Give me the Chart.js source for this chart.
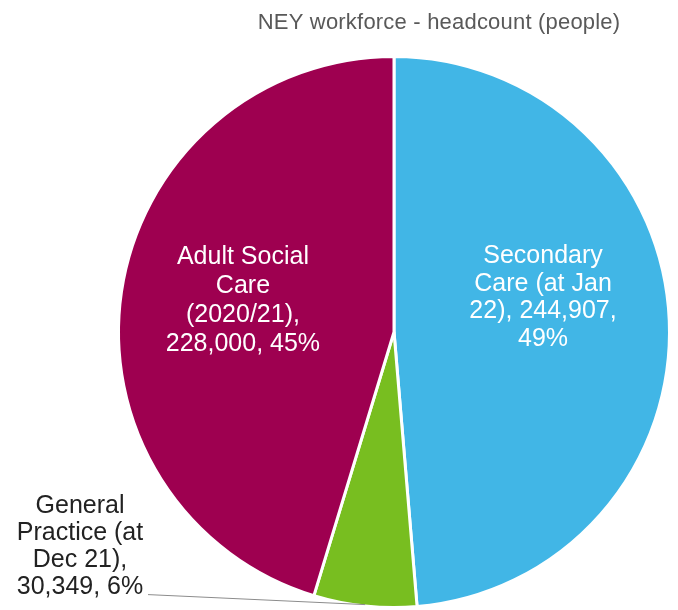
<!DOCTYPE html>
<html>
<head>
<meta charset="utf-8">
<script src="https://cdn.jsdelivr.net/npm/chart.js@4.4.0/dist/chart.umd.min.js"></script>
<style>
  html, body { margin: 0; padding: 0; background: #fff; }
  canvas { display: block; }
</style>
</head>
<body>
<canvas id="myChart" width="678" height="610"></canvas>
<script>
// chart data
var categories = ["Secondary Care (at Jan 22)", "General Practice (at Dec 21)", "Adult Social Care (2020/21)"];
var headcount = [244907, 30349, 228000];
var labelLines = [
  ["Secondary", "Care (at Jan", "22), 244,907,", "49%"],
  ["General", "Practice (at", "Dec 21),", "30,349, 6%"],
  ["Adult Social", "Care", "(2020/21),", "228,000, 45%"]
];
var colours = ["#41b6e6", "#78be20", "#9e0050"];
var chartTitle = "NEY workforce - headcount (people)";

// where each label sits, relative to the slice (angle shift in degrees, fraction of radius)
var labelPlace = [
  { shift: -10.5, r: 0.555, lh: 27.5, colour: "#fff" },
  { outside: true, lh: 27, colour: "#222" },
  { shift: 3.3, r: 0.56, lh: 28.7, colour: "#fff" }
];

var labelPlugin = {
  id: 'labels',
  afterDraw: function(chart) {
    var ctx = chart.ctx;
    ctx.save();
    // title
    ctx.font = '22px "Liberation Sans", Arial, sans-serif';
    ctx.letterSpacing = '0.2px';
    ctx.fillStyle = '#595959';
    ctx.textAlign = 'center';
    ctx.textBaseline = 'middle';
    ctx.fillText(chartTitle, 439, 23);

    var arcs = chart.getDatasetMeta(0).data;
    ctx.font = '25px "Liberation Sans", Arial, sans-serif';
    ctx.letterSpacing = '0px';
    arcs.forEach(function(arc, i) {
      var p = arc.getProps(['x', 'y', 'startAngle', 'endAngle', 'outerRadius']);
      var mid = (p.startAngle + p.endAngle) / 2;
      var lines = labelLines[i];
      var place = labelPlace[i];
      ctx.fillStyle = place.colour;
      if (place.outside) {
        // leader line from the slice edge out to the label
        var ex = p.x + Math.cos(mid) * p.outerRadius * 0.995;
        var ey = p.y + Math.sin(mid) * p.outerRadius * 0.995;
        var sx = chart.chartArea.left + 31, sy = ey - 10;
        ctx.strokeStyle = '#8c8c8c';
        ctx.lineWidth = 1;
        ctx.beginPath();
        ctx.moveTo(sx, sy);
        ctx.lineTo(ex, ey);
        ctx.stroke();
        var cx = sx - 68;
        lines.forEach(function(t, k) {
          ctx.fillText(t, cx, sy - 7 - (lines.length - 1 - k) * place.lh);
        });
      } else {
        var a = mid + place.shift * Math.PI / 180;
        var cx2 = p.x + Math.cos(a) * p.outerRadius * place.r;
        var cy2 = p.y + Math.sin(a) * p.outerRadius * place.r;
        lines.forEach(function(t, k) {
          ctx.fillText(t, cx2, cy2 + (k - (lines.length - 1) / 2) * place.lh);
        });
      }
    });
    ctx.restore();
  }
};

var ctx = document.getElementById("myChart");
var myChart = new Chart(ctx, {
  type: 'pie',
  data: {
    labels: categories,
    datasets: [{
      data: headcount,
      backgroundColor: colours,
      borderColor: '#ffffff',
      borderWidth: 3
    }]
  },
  options: {
    responsive: false,
    animation: false,
    layout: {
      padding: { top: 55, bottom: 1, left: 117, right: 7 }
    },
    plugins: {
      legend: { display: false },
      tooltip: { enabled: false }
    }
  },
  plugins: [labelPlugin]
});
</script>
</body>
</html>
